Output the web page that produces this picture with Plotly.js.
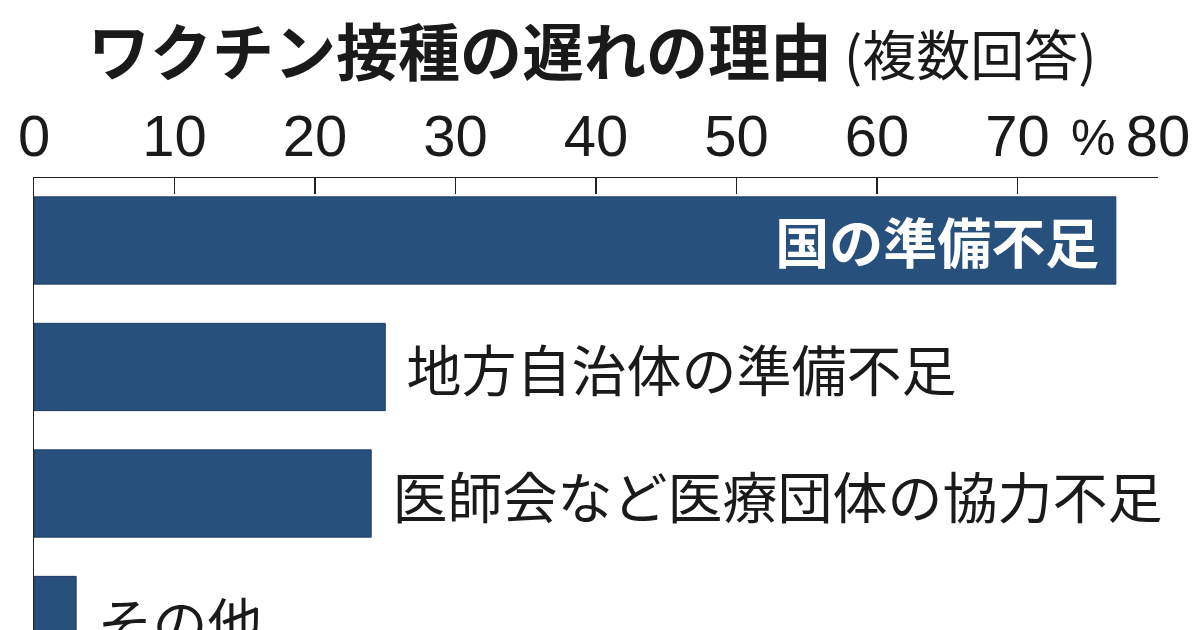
<!DOCTYPE html>
<html>
<head>
<meta charset="utf-8">
<script src="https://cdn.plot.ly/plotly-3.0.1.min.js"></script>
<style>
  html, body { margin: 0; padding: 0; background: #fff; }
  #plot { width: 1200px; height: 630px; }
</style>
</head>
<body>
<div id="plot"></div>
<script>
// 理由 (複数回答), %
var reasons = ['国の準備不足', '地方自治体の準備不足', '医師会など医療団体の協力不足', 'その他'];
var shares = [77, 25, 24, 3];
var tickValues = [0, 10, 20, 30, 40, 50, 60, 70, 80];
var unitLabel = '%';

var jp = '"Noto Sans CJK JP", "Noto Sans CJK SC", sans-serif';
var num = '"Liberation Sans", Arial, sans-serif';

var labels = reasons.map(function (r, i) {
   return i === 0 ? r + '\u2005' : '\u2004' + r;
});

var bar_trace = {
   type: 'bar',
   orientation: 'h',
   y: reasons,
   x: shares,
   text: labels,
   textposition: ['inside', 'outside', 'outside', 'outside'],
   insidetextanchor: 'end',
   insidetextfont: { family: jp, size: 54, color: '#ffffff', weight: 700 },
   outsidetextfont: { family: jp, size: 55, color: '#1a1a1a', weight: 400 },
   constraintext: 'none',
   cliponaxis: false,
   width: 0.69,
   marker: { color: '#28507c', line: { color: '#1d3b66', width: 1 } },
   hoverinfo: 'none'
};

var layout = {
   width: 1200,
   height: 630,
   margin: { l: 34, r: 42, t: 178, b: 0 },
   paper_bgcolor: '#ffffff',
   plot_bgcolor: '#ffffff',
   showlegend: false,
   title: {
      text: '<b>ワクチン接種の遅れの理由</b><span style="font-size:54px"> (複数回答)</span>',
      font: { family: jp, size: 62, color: '#1a1a1a' },
      x: 88 / 1200,
      xref: 'container',
      xanchor: 'left',
      y: 1 - 54 / 630,
      yref: 'container',
      yanchor: 'middle'
   },
   xaxis: {
      side: 'top',
      range: [0, 80],
      tickvals: tickValues,
      ticktext: tickValues.map(String),
      ticks: 'inside',
      ticklen: 16,
      tickwidth: 1.5,
      tickcolor: '#222',
      showline: true,
      linecolor: '#222',
      linewidth: 1.5,
      showgrid: false,
      zeroline: false,
      ticklabelstandoff: -3,
      tickfont: { family: num, size: 58, color: '#1a1a1a' },
      fixedrange: true
   },
   yaxis: {
      type: 'category',
      range: [3.079, -0.494],
      showticklabels: false,
      ticks: '',
      showline: true,
      linecolor: '#222',
      linewidth: 1.5,
      showgrid: false,
      zeroline: false,
      fixedrange: true
   },
   annotations: [{
      text: unitLabel,
      xref: 'x',
      x: 75.4,
      yref: 'paper',
      y: 1,
      yanchor: 'bottom',
      yshift: 10,
      showarrow: false,
      font: { family: num, size: 50, color: '#1a1a1a' }
   }]
};

Plotly.newPlot('plot', [bar_trace], layout, { displayModeBar: false, staticPlot: true });
</script>
</body>
</html>
